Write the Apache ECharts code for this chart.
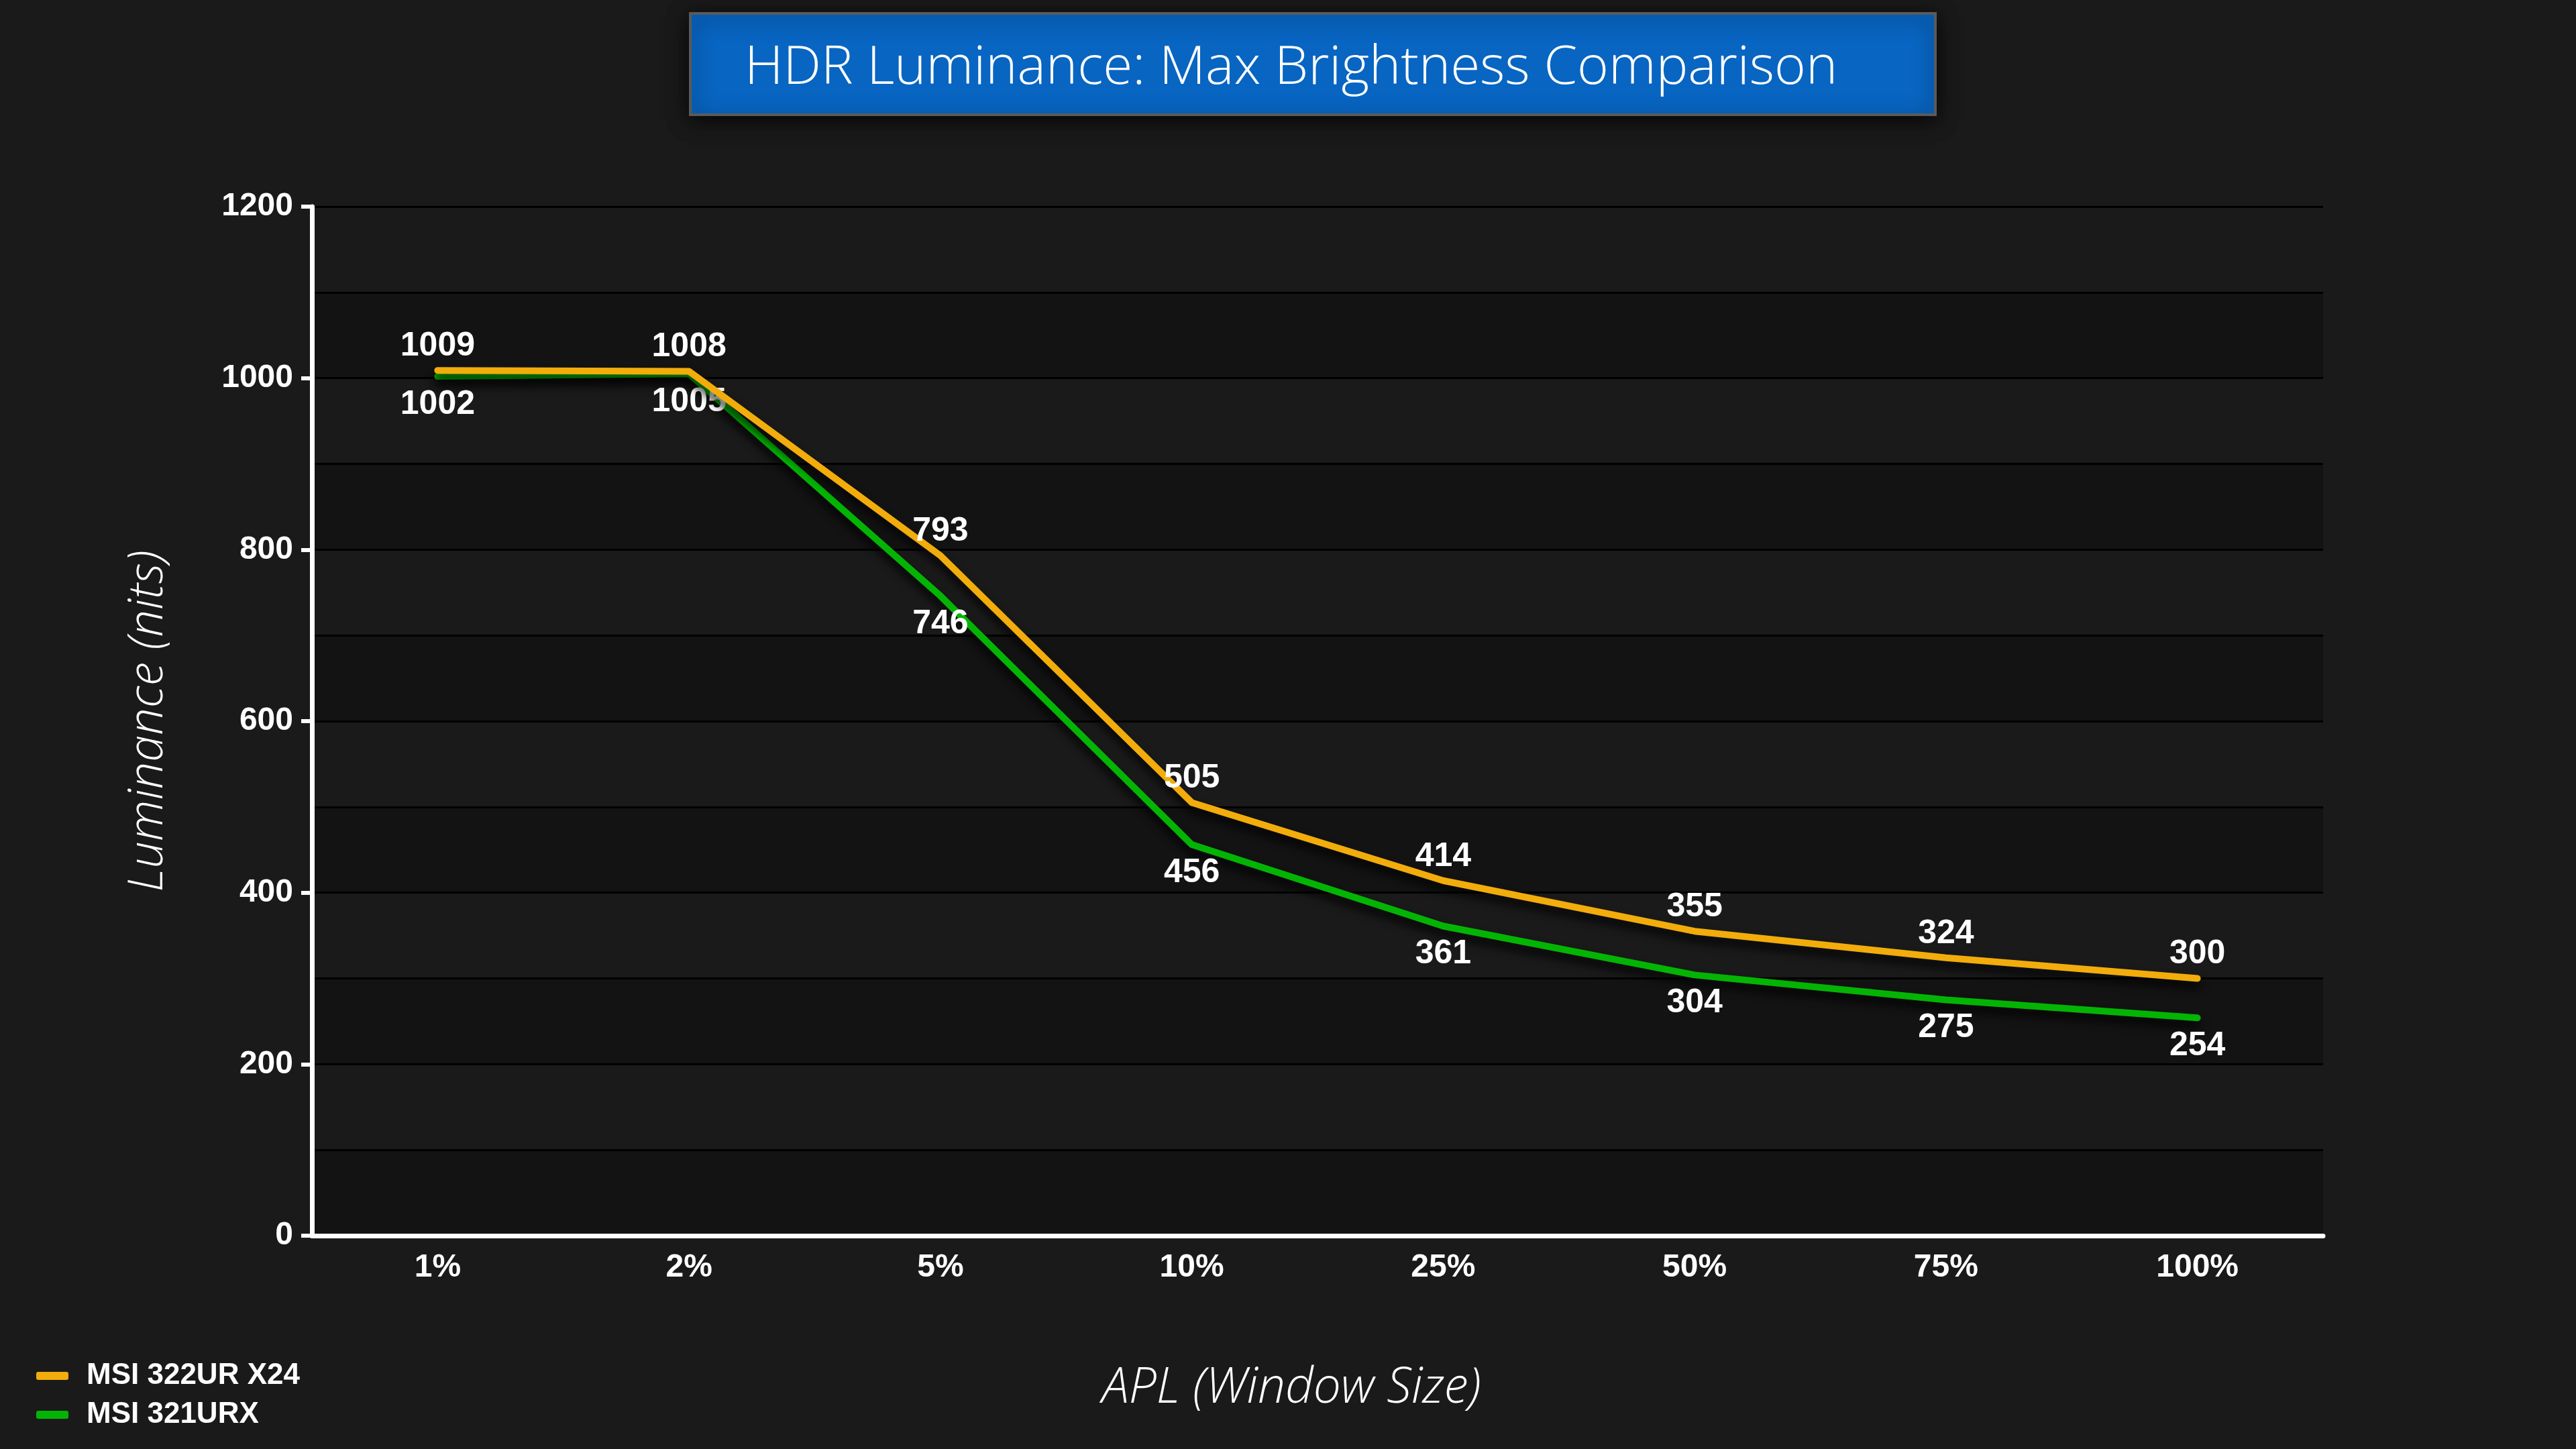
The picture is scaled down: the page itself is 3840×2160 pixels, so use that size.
<!DOCTYPE html>
<html>
<head>
<meta charset="utf-8">
<script src="https://cdn.jsdelivr.net/npm/echarts@6/dist/echarts.min.js"></script>
<style>
html,body{margin:0;padding:0;background:#1a1a1a;}
#chart{width:3840px;height:2160px;}
</style>
</head>
<body>
<div id="chart"></div>
<script>
const titleText = 'HDR Luminance: Max Brightness Comparison';
const categories = ['1%', '2%', '5%', '10%', '25%', '50%', '75%', '100%'];
const seriesNames = ['MSI 322UR X24', 'MSI 321URX'];
const msi322 = [1009, 1008, 793, 505, 414, 355, 324, 300];
const msi321 = [1002, 1005, 746, 456, 361, 304, 275, 254];
const yAxisName = 'Luminance (nits)';
const xAxisName = 'APL (Window Size)';

const narrow = '"Liberation Sans Narrow", "Arial Narrow", "Liberation Sans", Arial, sans-serif';
const light = '"Open Sans", "Noto Sans", sans-serif';

const chart = echarts.init(document.getElementById('chart'));
chart.setOption({
  backgroundColor: '#1a1a1a',
  animation: false,
  graphic: [
    {
      type: 'rect',
      shape: { x: 1029, y: 20, width: 1856, height: 151 },
      style: {
        fill: '#0865c2', stroke: '#5a5a5a', lineWidth: 4,
        shadowBlur: 30, shadowColor: 'rgba(0,0,0,0.8)', shadowOffsetY: 6
      },
      z: 10
    },
    {
      type: 'text',
      x: 1110, y: 102,
      style: {
        text: titleText, fill: '#ffffff', font: '300 80px ' + light,
        textVerticalAlign: 'middle', textAlign: 'left'
      },
      z: 11
    }
  ],
  legend: {
    orient: 'vertical',
    left: 49,
    top: 2024,
    itemWidth: 48,
    itemHeight: 12,
    itemGap: 14,
    icon: 'roundRect',
    data: seriesNames,
    textStyle: { color: '#ffffff', fontFamily: narrow, fontWeight: 'bold', fontSize: 44, padding: [0, 0, 0, 22] }
  },
  grid: { left: 465, right: 377, top: 308, bottom: 318, containLabel: false },
  xAxis: {
    type: 'category',
    data: categories,
    boundaryGap: true,
    name: xAxisName,
    nameLocation: 'middle',
    nameGap: 192,
    nameTextStyle: { color: '#ffffff', fontFamily: light, fontStyle: 'italic', fontWeight: 300, fontSize: 73, padding: [0, 78, 0, 0] },
    axisLine: { lineStyle: { color: '#ffffff', width: 7 } },
    axisTick: { alignWithLabel: true, length: 10, lineStyle: { color: '#ffffff', width: 5 } },
    axisLabel: { color: '#ffffff', fontFamily: narrow, fontWeight: 'bold', fontSize: 48, margin: 24 },
    splitLine: { show: false }
  },
  yAxis: [
    {
      type: 'value', min: 0, max: 1200, interval: 100,
      axisLine: { show: false },
      axisTick: { show: false },
      axisLabel: { show: false },
      splitLine: { show: true, lineStyle: { color: '#000000', width: 3 } },
      splitArea: { show: true, areaStyle: { color: ['#131313', '#1a1a1a'] } }
    },
    {
      type: 'value', min: 0, max: 1200, interval: 200, position: 'left',
      name: yAxisName,
      nameLocation: 'middle',
      nameGap: 208,
      nameRotate: 90,
      nameTextStyle: { color: '#ffffff', fontFamily: light, fontStyle: 'italic', fontWeight: 300, fontSize: 72 },
      axisLine: { show: true, lineStyle: { color: '#ffffff', width: 7 } },
      axisTick: { show: true, length: 16, lineStyle: { color: '#ffffff', width: 6 } },
      axisLabel: { color: '#ffffff', fontFamily: narrow, fontWeight: 'bold', fontSize: 48, margin: 28,
        formatter: function (v) { return String(v); } },
      splitLine: { show: false }
    }
  ],
  series: [
    {
      name: seriesNames[0], type: 'line', yAxisIndex: 0, data: msi322,
      symbol: 'circle', symbolSize: 2, color: '#f2ac0c',
      lineStyle: { width: 10, color: '#f2ac0c', cap: 'round', join: 'round',
        shadowColor: 'rgba(0,0,0,0.9)', shadowBlur: 14, shadowOffsetY: 10 },
      label: { show: true, position: 'top', distance: 10, color: '#ffffff', fontFamily: narrow, fontWeight: 'bold', fontSize: 50 },
      z: 3
    },
    {
      name: seriesNames[1], type: 'line', yAxisIndex: 0, data: msi321,
      symbol: 'circle', symbolSize: 2, color: '#04b404',
      lineStyle: { width: 10, color: '#04b404', cap: 'round', join: 'round',
        shadowColor: 'rgba(0,0,0,0.9)', shadowBlur: 14, shadowOffsetY: 10 },
      label: { show: true, position: 'bottom', distance: 16, color: '#ffffff', fontFamily: narrow, fontWeight: 'bold', fontSize: 50 },
      z: 2
    }
  ]
});
</script>
</body>
</html>
